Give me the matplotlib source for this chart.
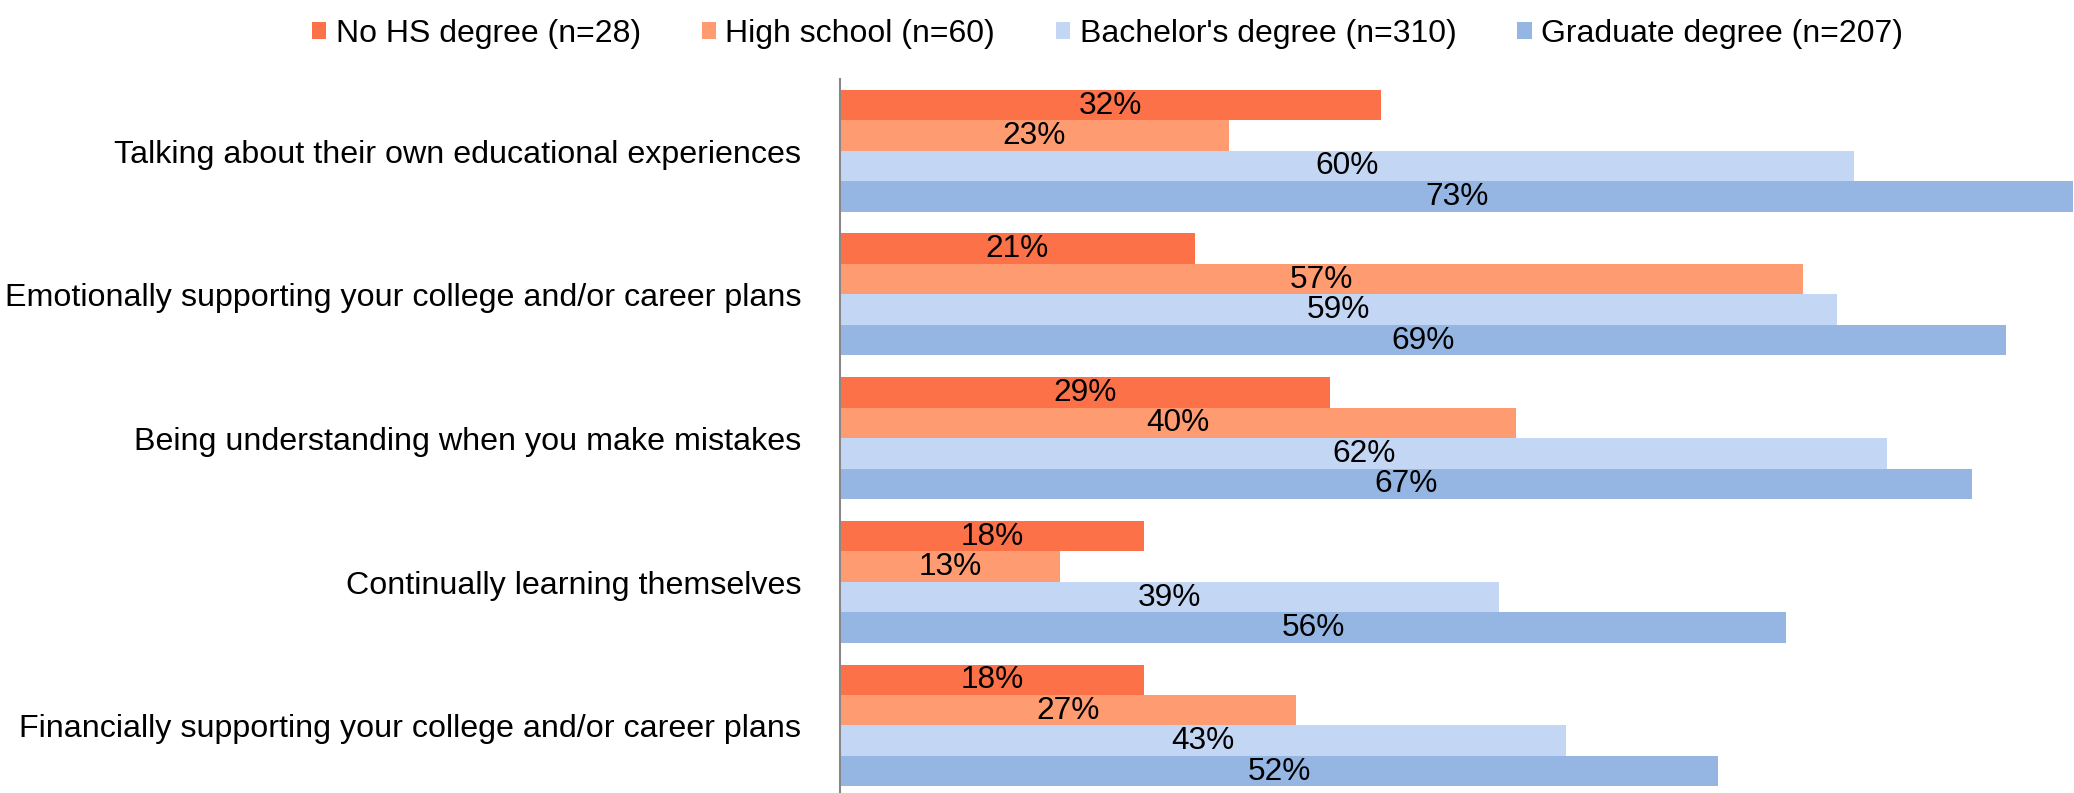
import numpy as np
import matplotlib.pyplot as plt

plt.rcParams['font.family'] = ['Liberation Sans', 'DejaVu Sans']

CATEGORIES = [
    "Talking about their own educational experiences",
    "Emotionally supporting your college and/or career plans",
    "Being understanding when you make mistakes",
    "Continually learning themselves",
    "Financially supporting your college and/or career plans",
]
SERIES = [
    "No HS degree (n=28)",
    "High school (n=60)",
    "Bachelor's degree (n=310)",
    "Graduate degree (n=207)",
]
VALUES = [
    [32, 21, 29, 18, 18],
    [23, 57, 40, 13, 27],
    [60, 59, 62, 39, 43],
    [73, 69, 67, 56, 52],
]
COLORS = ["#FD7149", "#FF9B71", "#C3D6F3", "#95B6E3"]


def main():
    fig = plt.figure(figsize=(20.74, 7.935), dpi=100)
    ax = fig.add_axes([0.405, 0.0, 0.595, 0.9])

    y = np.arange(len(CATEGORIES))
    h = 0.212
    for i, (name, vals, col) in enumerate(zip(SERIES, VALUES, COLORS)):
        pos = y + (i - 1.5) * h
        ax.barh(pos, vals, height=h, color=col, label=name, edgecolor="none")
        for p, v in zip(pos, vals):
            ax.text(v / 2, p, f"{v}%", ha="center", va="center",
                    fontsize=22.8, color="black")

    ax.set_xlim(0, 73.05)
    ax.set_ylim(4.47, -0.5)
    ax.set_yticks(y)
    ax.set_yticklabels(CATEGORIES, fontsize=23.2)
    ax.tick_params(axis="y", length=0, pad=28)
    ax.set_xticks([])
    for s in ["top", "right", "bottom"]:
        ax.spines[s].set_visible(False)
    ax.spines["left"].set_color("#888888")
    ax.spines["left"].set_linewidth(1.5)

    fig.legend(loc="upper center", bbox_to_anchor=(0.534, 1.012), ncol=4,
               frameon=False, fontsize=23, handlelength=0.45, handleheight=0.45,
               handletextpad=0.3, columnspacing=1.9)

    fig.savefig("out.png")


if __name__ == "__main__":
    main()
